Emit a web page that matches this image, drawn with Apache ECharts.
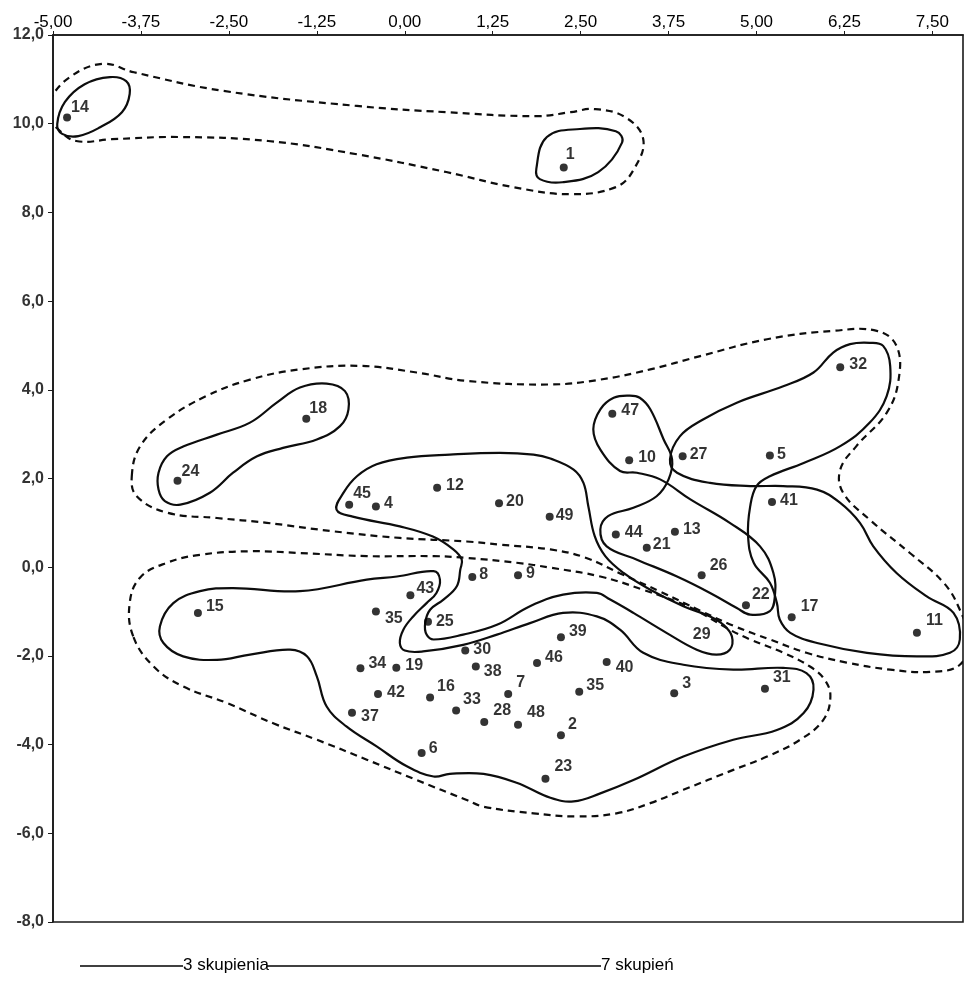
<!DOCTYPE html>
<html><head><meta charset="utf-8">
<script src="https://cdn.jsdelivr.net/npm/echarts@6/dist/echarts.min.js"></script>
<style>html,body{margin:0;padding:0;background:#fff}#c{width:967px;height:987px}</style>
</head><body><div id="c"></div>
<script>
// ---------------- data ----------------
const xMin = -5, xMax = 7.935, xStep = 1.25;
const yMin = -8, yMax = 12, yStep = 2;

const pointLabels = ['14','1','32','18','47','24','10','27','5','12','41','45','4','20','49','44','13','21','26','8','9','43','15','35','22','17','25','11','29','39','30','46','38','40','34','19','7','35','3','31','42','16','33','28','48','37','2','6','23'];
const pointX = [-4.80,2.26,6.19,-1.40,2.95,-3.23,3.19,3.95,5.19,0.46,5.22,-0.79,-0.41,1.34,2.06,3.00,3.84,3.44,4.22,0.96,1.61,0.08,-2.94,-0.41,4.85,5.50,0.33,7.28,4.22,2.22,0.86,1.88,1.01,2.87,-0.63,-0.12,1.47,2.48,3.83,5.12,-0.38,0.36,0.73,1.13,1.61,-0.75,2.22,0.24,2.00];
const pointY = [10.14,9.01,4.51,3.35,3.46,1.95,2.41,2.50,2.52,1.79,1.47,1.41,1.37,1.44,1.14,0.74,0.80,0.44,-0.18,-0.22,-0.18,-0.63,-1.03,-1.00,-0.86,-1.13,-1.23,-1.48,-1.52,-1.58,-1.88,-2.16,-2.24,-2.14,-2.28,-2.27,-2.86,-2.81,-2.84,-2.74,-2.86,-2.94,-3.23,-3.49,-3.55,-3.28,-3.79,-4.19,-4.77];

// 7-cluster solution (solid outlines)
const solid14 = [[-4.94,9.99],[-4.83,10.49],[-4.55,10.89],[-4.19,11.05],[-3.96,10.96],[-3.91,10.67],[-4.02,10.26],[-4.33,9.92],[-4.64,9.72],[-4.87,9.77]];
const solid1 = [[1.87,8.98],[2.02,9.70],[2.49,9.88],[3.00,9.83],[3.09,9.58],[2.75,8.91],[2.24,8.68],[1.92,8.75]];
const solid18_24 = [[-3.50,2.13],[-3.38,2.50],[-3.15,2.72],[-2.67,2.99],[-2.20,3.26],[-1.82,3.71],[-1.49,4.05],[-1.11,4.14],[-0.85,3.97],[-0.80,3.56],[-0.92,3.18],[-1.25,2.88],[-1.73,2.69],[-2.10,2.50],[-2.44,2.13],[-2.77,1.68],[-3.19,1.41],[-3.41,1.49],[-3.50,1.75]];
const solidMid = [[-0.97,1.30],[-0.87,1.68],[-0.68,2.05],[-0.40,2.32],[0.03,2.47],[0.64,2.54],[1.35,2.58],[1.83,2.54],[2.07,2.45],[2.40,2.20],[2.54,1.90],[2.61,1.37],[2.70,0.70],[2.85,0.25],[3.11,-0.13],[3.49,-0.51],[3.96,-0.88],[4.34,-1.11],[4.53,-1.30],[4.65,-1.56],[4.62,-1.86],[4.43,-1.97],[4.15,-1.86],[3.72,-1.48],[3.25,-1.03],[2.92,-0.73],[2.73,-0.58],[2.25,-0.62],[1.78,-0.88],[1.31,-1.30],[0.83,-1.52],[0.41,-1.63],[0.31,-1.52],[0.29,-1.26],[0.36,-0.96],[0.55,-0.73],[0.74,-0.43],[0.79,-0.05],[0.81,0.17],[0.69,0.40],[0.40,0.69],[-0.07,0.92],[-0.74,1.14]];
const solidLow = [[-3.48,-1.33],[-3.29,-0.81],[-2.91,-0.54],[-2.44,-0.47],[-1.49,-0.54],[-0.54,-0.28],[-0.11,-0.21],[0.41,-0.09],[0.50,-0.28],[0.45,-0.58],[0.31,-0.81],[0.12,-1.11],[-0.02,-1.41],[-0.07,-1.71],[0.00,-1.88],[0.26,-1.90],[0.83,-1.75],[1.31,-1.52],[1.78,-1.26],[2.25,-1.03],[2.73,-1.11],[3.06,-1.41],[3.39,-1.93],[3.96,-2.20],[4.67,-2.31],[5.38,-2.27],[5.71,-2.39],[5.81,-2.76],[5.67,-3.29],[5.29,-3.67],[4.67,-3.89],[3.96,-4.27],[3.25,-4.80],[2.78,-5.10],[2.40,-5.28],[2.07,-5.20],[1.59,-4.86],[1.12,-4.66],[0.64,-4.66],[0.41,-4.72],[0.03,-4.49],[-0.40,-4.04],[-0.83,-3.59],[-1.11,-3.14],[-1.25,-2.46],[-1.39,-2.01],[-1.63,-1.86],[-2.20,-1.97],[-2.67,-2.09],[-3.15,-2.01],[-3.43,-1.71]];
const solid47 = [[3.20,3.87],[3.34,3.82],[3.49,3.56],[3.68,2.88],[3.80,2.43],[3.75,1.98],[3.58,1.60],[3.25,1.34],[2.89,1.15],[2.78,0.85],[2.87,0.47],[3.30,0.17],[3.87,-0.21],[4.34,-0.58],[4.72,-0.92],[4.91,-1.07],[5.19,-0.99],[5.26,-0.66],[5.24,-0.13],[5.05,0.47],[4.62,1.00],[4.06,1.53],[3.63,1.98],[3.30,2.13],[3.06,2.17],[2.78,2.65],[2.68,3.11],[2.78,3.56],[2.97,3.82]];
const solid32 = [[6.80,4.99],[6.90,4.54],[6.85,3.86],[6.61,3.26],[6.19,2.73],[5.67,2.35],[5.19,2.05],[5.00,1.83],[4.91,1.37],[4.88,0.70],[4.96,0.10],[5.19,-0.35],[5.29,-0.81],[5.33,-1.18],[5.48,-1.48],[5.86,-1.71],[6.57,-1.93],[7.28,-2.01],[7.75,-1.93],[7.89,-1.63],[7.80,-1.03],[7.42,-0.66],[6.99,-0.13],[6.66,0.47],[6.47,1.00],[6.19,1.45],[5.86,1.75],[5.38,1.83],[4.91,1.83],[4.34,1.90],[3.87,2.13],[3.77,2.43],[3.91,2.95],[4.24,3.33],[4.72,3.71],[5.38,4.08],[5.81,4.39],[6.09,4.84],[6.33,5.03],[6.61,5.06]];

// 3-cluster solution (dashed outlines)
const dashedTop = [[-5.05,10.51],[-4.76,11.05],[-4.29,11.35],[-3.85,11.16],[-2.58,10.74],[-0.68,10.40],[0.59,10.26],[1.87,10.17],[2.36,10.26],[2.69,10.33],[3.13,10.15],[3.39,9.65],[3.26,8.98],[3.00,8.57],[2.36,8.41],[1.54,8.57],[0.59,8.91],[-0.68,9.31],[-1.94,9.61],[-3.21,9.70],[-4.16,9.65],[-4.67,9.61],[-4.93,9.88],[-5.05,10.15]];
const dashedMid = [[-3.88,2.05],[-3.76,2.73],[-3.38,3.33],[-2.82,3.86],[-2.20,4.23],[-1.49,4.46],[-0.64,4.54],[0.17,4.39],[0.88,4.20],[2.07,4.12],[2.78,4.23],[3.49,4.46],[4.20,4.76],[5.15,5.14],[6.09,5.33],[6.71,5.33],[6.99,4.99],[7.02,4.23],[6.85,3.48],[6.42,2.73],[6.19,2.20],[6.23,1.68],[6.61,1.07],[7.18,0.32],[7.66,-0.35],[7.89,-0.96],[8.01,-1.63],[7.89,-2.20],[7.47,-2.36],[6.90,-2.31],[6.28,-2.15],[5.71,-1.93],[5.19,-1.63],[4.67,-1.32],[4.20,-0.98],[3.63,-0.55],[3.06,-0.14],[2.56,0.22],[2.07,0.40],[1.35,0.51],[0.88,0.58],[-0.07,0.66],[-1.02,0.81],[-1.96,1.00],[-2.67,1.11],[-3.38,1.23],[-3.81,1.60]];
const dashedLow = [[-3.86,-1.56],[-3.91,-0.81],[-3.76,-0.23],[-3.38,0.10],[-2.91,0.28],[-2.20,0.36],[-1.49,0.32],[-0.54,0.25],[0.41,0.25],[0.88,0.21],[1.59,0.10],[2.07,-0.01],[2.78,-0.21],[3.39,-0.51],[4.06,-0.91],[4.62,-1.41],[4.91,-1.63],[5.38,-1.93],[5.76,-2.24],[5.97,-2.54],[6.05,-2.92],[5.95,-3.44],[5.62,-3.89],[5.15,-4.27],[4.67,-4.57],[3.96,-5.02],[3.49,-5.32],[3.01,-5.55],[2.44,-5.62],[1.83,-5.55],[1.12,-5.40],[0.88,-5.25],[0.17,-4.80],[-0.54,-4.34],[-1.25,-3.89],[-1.87,-3.52],[-2.53,-3.06],[-3.15,-2.69],[-3.57,-2.24]];

const legendTexts = ['3 skupienia', '7 skupień'];

// ---------------- styles (not data) ----------------
const FONT = "'Liberation Sans',Arial,Helvetica,sans-serif";
// label anchor [left edge dx from dot centre, dy] ; null = label centred, no dot
const labelOffsets = [[4,-10],[2,-13],[9,-3],[3,-10],[9,-3],[4,-9],[9,-3],[7,-2],[7,-1],[9,-2],[8,-1],[4,-11],[8,-3],[7,-2],[6,-1],[9,-2],[8,-2],[6,-3],[8,-10],[7,-2],[8,-2],[6,-7],[8,-6],[9,7],[6,-11],[9,-11],[8,0],[9,-12],null,[8,-6],[8,-1],[8,-5],[8,5],[9,5],[8,-5],[9,-2],[8,-11],[7,-6],[8,-10],[8,-11],[9,-1],[7,-11],[7,-11],[9,-11],[9,-12],[9,4],[7,-11],[7,-4],[9,-12]];

function contourSeries(list, dashed) {
  return {
    type: 'custom', coordinateSystem: 'cartesian2d', clip: true, silent: true, z: 1,
    data: list.map(c => c[0]),
    renderItem: function (params, api) {
      const pts = list[params.dataIndex].map(p => api.coord(p));
      return {
        type: 'polygon',
        shape: { points: pts, smooth: 0.4 },
        style: { fill: 'none', stroke: '#0d0d0d', lineWidth: 2.2, lineDash: dashed ? [7, 5] : null }
      };
    }
  };
}

const chart = echarts.init(document.getElementById('c'), null, { renderer: 'canvas' });
const scatterData = pointLabels.map((lab, i) => {
  const o = labelOffsets[i];
  const item = { name: lab, value: [pointX[i], pointY[i]] };
  if (o === null) {
    item.symbolSize = 0.1;
    item.label = { position: 'inside', offset: [0, 0] };
  } else {
    item.label = { offset: [o[0] - 4, o[1]] };
  }
  return item;
});

chart.setOption({
  animation: false,
  backgroundColor: '#ffffff',
  grid: { left: 53, right: 4, top: 35, bottom: 65, show: true, borderColor: '#1a1a1a', borderWidth: 1.6, backgroundColor: 'transparent' },
  xAxis: {
    type: 'value', position: 'top', min: xMin, max: xMax, interval: xStep,
    splitLine: { show: false },
    axisLine: { onZero: false, lineStyle: { color: '#1a1a1a', width: 1.6 } },
    axisTick: { length: 4, lineStyle: { color: '#1a1a1a' } },
    axisLabel: { showMaxLabel: false, margin: 4, fontFamily: FONT, fontSize: 17, color: '#000',
      formatter: v => v.toFixed(2).replace('.', ',') }
  },
  yAxis: {
    type: 'value', min: yMin, max: yMax, interval: yStep,
    splitLine: { show: false },
    axisLine: { onZero: false, lineStyle: { color: '#1a1a1a', width: 1.6 } },
    axisTick: { length: 5, lineStyle: { color: '#1a1a1a' } },
    axisLabel: { margin: 9, fontFamily: FONT, fontWeight: 'bold', fontSize: 16, color: '#333',
      formatter: v => v.toFixed(1).replace('.', ',') }
  },
  graphic: [
    { type: 'line', shape: { x1: 80, y1: 966, x2: 183, y2: 966 }, style: { stroke: '#000', lineWidth: 1.3 } },
    { type: 'text', x: 183, y: 965, style: { text: legendTexts[0], font: "17px " + FONT, fill: '#000', verticalAlign: 'middle' } },
    { type: 'line', shape: { x1: 267, y1: 966, x2: 601, y2: 966 }, style: { stroke: '#000', lineWidth: 1.3 } },
    { type: 'text', x: 601, y: 965, style: { text: legendTexts[1], font: "17px " + FONT, fill: '#000', verticalAlign: 'middle' } }
  ],
  series: [
    contourSeries([solid14, solid1, solid18_24, solidMid, solidLow, solid47, solid32], false),
    contourSeries([dashedTop, dashedMid, dashedLow], true),
    {
      type: 'scatter', symbol: 'circle', symbolSize: 8, z: 3,
      itemStyle: { color: '#000' },
      label: { show: true, position: 'right', distance: 0, formatter: '{b}', fontFamily: FONT, fontWeight: 'bold', fontSize: 16, color: '#000' },
      data: scatterData
    }
  ]
});
</script>
</body></html>
